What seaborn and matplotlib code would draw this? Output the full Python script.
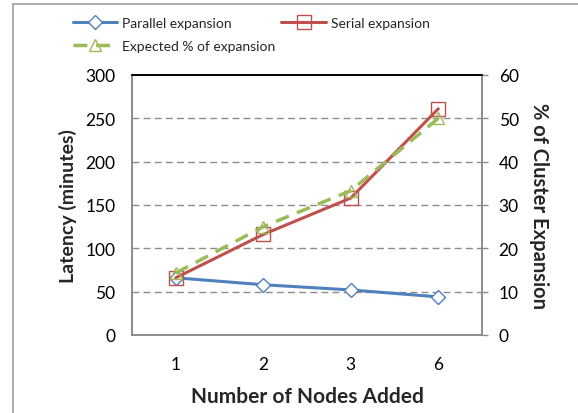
import matplotlib
matplotlib.use("Agg")
import matplotlib.pyplot as plt
import seaborn as sns
import pandas as pd
from matplotlib.lines import Line2D

nodes = ["1", "2", "3", "6"]
parallel = [66, 58, 52, 44]
serial = [66, 116, 158, 261]
expected_pct = [14.3, 25, 33.3, 50]

left_ticks = [0, 50, 100, 150, 200, 250, 300]
right_ticks = [0, 10, 20, 30, 40, 50, 60]

sns.set_theme(style="white")
plt.rcParams["font.family"] = ["Lato", "DejaVu Sans"]

BLUE = "#4F81BD"
RED = "#C0504D"
GREEN = "#9BBB59"
GRAY = "#8c8c8c"

df = pd.DataFrame({"nodes": nodes, "parallel": parallel,
                   "serial": serial, "expected": expected_pct})

fig = plt.figure(figsize=(5.78, 4.14), dpi=100)
ax = fig.add_axes([132/578, 1-336/414, 350/578, 260/414])
ax2 = ax.twinx()

sns.lineplot(data=df, x="nodes", y="parallel", ax=ax, color=BLUE, lw=2.2,
             marker="D", markersize=7, markerfacecolor="white",
             markeredgecolor=BLUE, markeredgewidth=1.0, label="Parallel expansion",
             legend=False, zorder=5)
sns.lineplot(data=df, x="nodes", y="serial", ax=ax, color=RED, lw=2.2,
             marker="s", markersize=10, markerfacecolor="none",
             markeredgecolor=RED, markeredgewidth=1.0, label="Serial expansion",
             legend=False, zorder=5)
sns.lineplot(data=df, x="nodes", y="expected", ax=ax2, color=GREEN, lw=2.5,
             linestyle=(0, (4, 2.5)), marker="^", markersize=9,
             markerfacecolor="none", markeredgecolor=GREEN, markeredgewidth=1.0,
             label="Expected % of expansion", legend=False, zorder=5)

ax.set_xlim(-0.5, 3.5)
ax.set_ylim(0, 300)
ax2.set_ylim(0, 60)
ax.set_yticks(left_ticks)
ax2.set_yticks(right_ticks)

for y in left_ticks[1:-1]:
    ax.axhline(y, color=GRAY, lw=1.0, ls=(0, (5, 3)), zorder=1)

ax.set_xlabel("Number of Nodes Added", fontsize=15, fontweight="bold", labelpad=10)
ax.set_ylabel("Latency (minutes)", fontsize=14, fontweight="bold", labelpad=6)
ax2.set_ylabel("% of Cluster Expansion", fontsize=14.5, fontweight="bold",
               rotation=270, labelpad=22)

ax.tick_params(axis="x", length=0, pad=15, labelsize=12.5, colors="black")
ax.tick_params(axis="y", length=0, pad=12, labelsize=12.5, colors="black")
ax2.tick_params(axis="y", length=4, width=1, color=GRAY, pad=8, labelsize=12.5,
                labelcolor="black", direction="out")

for a in (ax, ax2):
    for s in ("left", "right", "bottom"):
        a.spines[s].set_color(GRAY)
        a.spines[s].set_linewidth(1.2)
    a.spines["top"].set_color("black")
    a.spines["top"].set_linewidth(1.2)

h1, l1 = ax.get_legend_handles_labels()
h2, l2 = ax2.get_legend_handles_labels()
handles = [h1[0], h2[0], h1[1]]
labels = [l1[0], l2[0], l1[1]]
fig.legend(handles, labels, loc="upper left", bbox_to_anchor=(60/578, 1-5/414),
           ncol=2, frameon=False, fontsize=10, handlelength=3.2,
           columnspacing=0.4, handletextpad=0.4, labelspacing=0.8)

fig.add_artist(Line2D([13/578, 13/578], [0, 1-5/414], transform=fig.transFigure,
                      color="#a0a0a0", lw=1.2))
fig.add_artist(Line2D([13/578, 1], [1-5/414, 1-5/414], transform=fig.transFigure,
                      color="#a0a0a0", lw=1.2))

fig.savefig("out.png", dpi=100)
